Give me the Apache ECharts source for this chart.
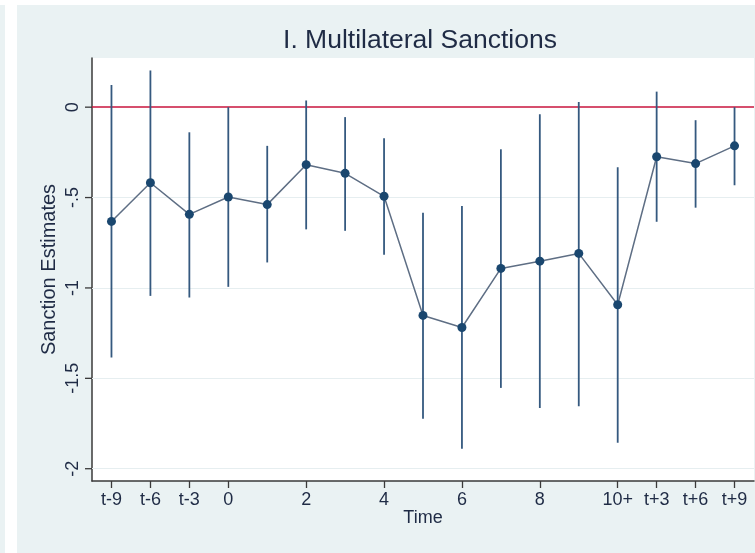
<!DOCTYPE html>
<html>
<head>
<meta charset="utf-8">
<script src="https://cdn.jsdelivr.net/npm/echarts@6/dist/echarts.min.js"></script>
<style>
  html, body { margin: 0; padding: 0; background: #ffffff; }
  #wrap { position: relative; width: 755px; height: 553px; overflow: hidden; }
  .panel { position: absolute; background: #EAF2F3; }
  #chart { position: absolute; left: 0; top: 0; width: 755px; height: 553px; }
</style>
</head>
<body>
<div id="wrap">
  <div class="panel" style="left:0;top:5px;width:5px;height:548px;"></div>
  <div class="panel" style="left:17px;top:5px;width:738px;height:548px;"></div>
  <div id="chart"></div>
</div>
<script>
// Event-study estimates of multilateral sanctions with confidence intervals
const timeLabels = ['t-9', 't-6', 't-3', '0', '1', '2', '3', '4', '5', '6', '7', '8', '9', '10+', 't+3', 't+6', 't+9'];
const shownLabels = ['t-9', 't-6', 't-3', '0', '2', '4', '6', '8', '10+', 't+3', 't+6', 't+9'];
const estimates = [-0.632, -0.418, -0.593, -0.497, -0.539, -0.318, -0.366, -0.493, -1.152, -1.219, -0.892, -0.852, -0.809, -1.093, -0.274, -0.312, -0.214];
const ciUpper = [0.122, 0.203, -0.139, 0.0, -0.214, 0.037, -0.055, -0.172, -0.584, -0.547, -0.233, -0.039, 0.028, -0.332, 0.086, -0.072, 0.0];
const ciLower = [-1.385, -1.044, -1.053, -0.994, -0.859, -0.676, -0.684, -0.816, -1.723, -1.889, -1.553, -1.664, -1.655, -1.856, -0.634, -0.556, -0.432];
const yTicks = [0, -0.5, -1, -1.5, -2];
const yTickText = ['0', '-.5', '-1', '-1.5', '-2'];
const yRange = [-2.068, 0.272];

const FONT = 'Liberation Sans, Arial, Helvetica, sans-serif';
const TEXT = '#1f2b45';
const AXIS = '#3a3a3a';
const TICK_LEN = 7;

const chart = echarts.init(document.getElementById('chart'), null, { renderer: 'canvas' });

const errorData = timeLabels.map((t, i) => [i, ciLower[i], ciUpper[i]]);

chart.setOption({
  animation: false,
  backgroundColor: 'transparent',
  title: {
    text: 'I. Multilateral Sanctions',
    left: 415,
    textAlign: 'center',
    top: 22,
    textStyle: { fontFamily: FONT, fontSize: 26.5, fontWeight: 'normal', color: TEXT }
  },
  grid: {
    left: 92, right: 1, top: 58, bottom: 72,
    show: true, backgroundColor: '#ffffff', borderWidth: 0
  },
  xAxis: {
    type: 'category',
    data: timeLabels,
    boundaryGap: true,
    name: 'Time',
    nameLocation: 'middle',
    nameGap: 28,
    nameMoveOverlap: false,
    nameTextStyle: { fontFamily: FONT, fontSize: 18, color: TEXT },
    axisLine: { show: true, onZero: false, lineStyle: { color: AXIS, width: 1.5 } },
    axisTick: {
      show: true, inside: false,
      alignWithLabel: true, length: TICK_LEN,
      interval: (idx, val) => shownLabels.includes(val),
      lineStyle: { color: AXIS, width: 1.3 }
    },
    axisLabel: {
      show: true,
      interval: (idx, val) => shownLabels.includes(val),
      fontFamily: FONT, fontSize: 18, color: TEXT, margin: 10
    },
    splitLine: { show: false }
  },
  yAxis: {
    type: 'value',
    min: yRange[0],
    max: yRange[1],
    name: 'Sanction Estimates',
    nameLocation: 'middle',
    nameGap: 33,
    nameMoveOverlap: false,
    nameTextStyle: { fontFamily: FONT, fontSize: 20, color: TEXT },
    axisLine: { show: true, onZero: false, lineStyle: { color: AXIS, width: 1.5 } },
    axisTick: { show: false },
    axisLabel: {
      customValues: yTicks,
      rotate: 90,
      margin: 10,
      fontFamily: FONT, fontSize: 18, color: TEXT,
      formatter: v => {
        const k = yTicks.findIndex(t => Math.abs(t - v) < 1e-9);
        return k >= 0 ? yTickText[k] : '';
      }
    },
    splitLine: { show: false }
  },
  series: [
    {
      // horizontal guides at each labelled y value, and the reference line at zero
      type: 'line',
      data: [],
      silent: true,
      z: 1,
      markLine: {
        silent: true,
        z: 1,
        symbol: 'none',
        label: { show: false },
        animation: false,
        data: yTicks.filter(v => v !== 0).map(v => ({
          yAxis: v, lineStyle: { color: '#E6EEF0', width: 1.2, type: 'solid' }
        })).concat([{
          yAxis: 0, lineStyle: { color: '#C8143C', width: 1.6, type: 'solid' }
        }])
      }
    },
    {
      // outward tick marks on the value axis at each labelled value
      type: 'custom',
      data: yTicks.map(v => [0, v]),
      silent: true,
      clip: false,
      z: 4,
      encode: { x: 0, y: 1 },
      renderItem: (params, api) => {
        const p = api.coord([0, api.value(1)]);
        const band = api.size([1, 0])[0];
        const x0 = p[0] - band / 2;
        return {
          type: 'line',
          shape: { x1: x0 - TICK_LEN, y1: p[1], x2: x0, y2: p[1] },
          style: { stroke: AXIS, lineWidth: 1.3 }
        };
      }
    },
    {
      // confidence interval spikes
      type: 'custom',
      data: errorData,
      z: 2,
      renderItem: (params, api) => {
        const x = api.value(0);
        const lo = api.coord([x, api.value(1)]);
        const hi = api.coord([x, api.value(2)]);
        return {
          type: 'line',
          shape: { x1: lo[0], y1: lo[1], x2: hi[0], y2: hi[1] },
          style: { stroke: '#35597F', lineWidth: 1.8 }
        };
      },
      encode: { x: 0, y: [1, 2] }
    },
    {
      type: 'line',
      data: estimates,
      z: 3,
      symbol: 'circle',
      symbolSize: 9,
      showAllSymbol: true,
      itemStyle: { color: '#1A476F', borderWidth: 0 },
      lineStyle: { color: '#5E6E84', width: 1.5 }
    }
  ]
});
</script>
</body>
</html>
